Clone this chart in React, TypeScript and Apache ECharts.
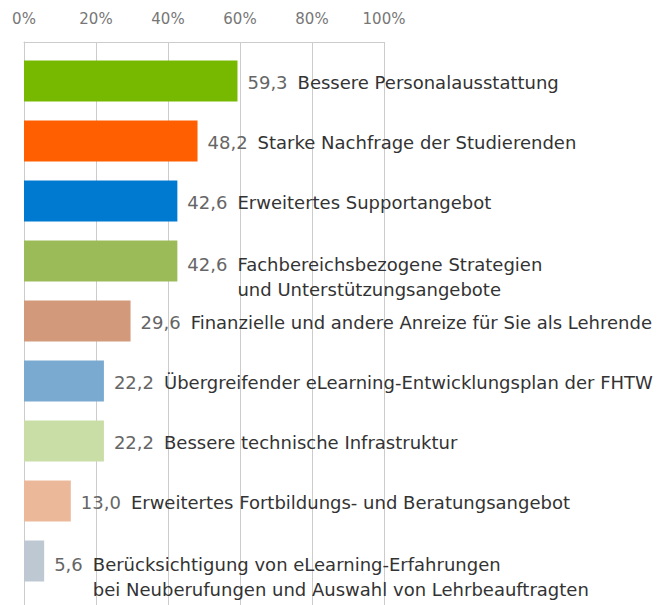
import React, { useEffect, useRef } from "react";
import * as echarts from "echarts";

const categories = [
  "Bessere Personalausstattung",
  "Starke Nachfrage der Studierenden",
  "Erweitertes Supportangebot",
  "Fachbereichsbezogene Strategien\nund Unterstützungsangebote",
  "Finanzielle und andere Anreize für Sie als Lehrende",
  "Übergreifender eLearning-Entwicklungsplan der FHTW",
  "Bessere technische Infrastruktur",
  "Erweitertes Fortbildungs- und Beratungsangebot",
  "Berücksichtigung von eLearning-Erfahrungen\nbei Neuberufungen und Auswahl von Lehrbeauftragten",
];
const values = [59.3, 48.2, 42.6, 42.6, 29.6, 22.2, 22.2, 13.0, 5.6];
const colors = [
  "#77b800",
  "#ff5f00",
  "#007ad0",
  "#9bbb59",
  "#d29a7a",
  "#7aaad0",
  "#c8dea6",
  "#ebb999",
  "#bdc8d3",
];
const tickValues = [0, 20, 40, 60, 80, 100];

const FONT = "'DejaVu Sans', sans-serif";

export default function App() {
  const ref = useRef<HTMLDivElement>(null);
  useEffect(() => {
    document.body.style.margin = "0";
    const chart = echarts.init(ref.current!, null, { renderer: "svg" });
    const fmt = (v: number) => v.toFixed(1).replace(".", ",");
    const data = values.map((v, i) => {
      const lines = categories[i].split("\n");
      const val = fmt(v);
      let text = `{v|${val}}{s| }{c|${lines[0]}}`;
      for (let k = 1; k < lines.length; k++) {
        text += `\n{h|${val}}{s| }{c|${lines[k]}}`;
      }
      return {
        value: v,
        itemStyle: { color: colors[i] },
        label: {
          formatter: text,
          offset: [0, lines.length > 1 ? 16 : 1],
        },
      };
    });
    chart.setOption({
      animation: false,
      grid: [
        { left: 24, right: 273, top: 51, height: 540, containLabel: false },
        { left: 24, right: 273, top: 42, bottom: 0, containLabel: false },
      ],
      xAxis: [
        {
          gridIndex: 0,
          type: "value",
          min: 0,
          max: 100,
          interval: 20,
          show: false,
        },
        {
          gridIndex: 1,
          type: "value",
          position: "top",
          min: 0,
          max: 100,
          interval: 20,
          axisLine: { show: true, lineStyle: { color: "#cccccc", width: 1 } },
          axisTick: { show: false },
          splitLine: { show: true, lineStyle: { color: "#cccccc", width: 1 } },
          axisLabel: {
            margin: 16,
            color: "#777777",
            fontSize: 15,
            fontFamily: FONT,
            formatter: (v: number) => (tickValues.includes(v) ? `${v}%` : ""),
          },
        },
      ],
      yAxis: [
        {
          gridIndex: 0,
          type: "category",
          inverse: true,
          data: categories,
          show: false,
        },
        {
          gridIndex: 1,
          type: "category",
          data: ["a"],
          axisLine: { show: true, lineStyle: { color: "#cccccc", width: 1 } },
          axisTick: { show: false },
          axisLabel: { show: false },
          splitLine: { show: false },
        },
      ],
      series: [
        {
          type: "bar",
          xAxisIndex: 0,
          yAxisIndex: 0,
          data,
          barWidth: 41,
          label: {
            show: true,
            position: "right",
            distance: 10,
            fontFamily: FONT,
            rich: {
              v: { color: "#666666", fontSize: 18, fontFamily: FONT, lineHeight: 25 },
              h: { color: "rgba(0,0,0,0)", fontSize: 18, fontFamily: FONT, lineHeight: 25 },
              s: { width: 10, fontSize: 18, lineHeight: 25 },
              c: { color: "#333333", fontSize: 18, fontFamily: FONT, lineHeight: 25 },
            },
          },
        },
      ],
    });
    return () => chart.dispose();
  }, []);
  return <div ref={ref} style={{ width: 657, height: 605 }} />;
}
